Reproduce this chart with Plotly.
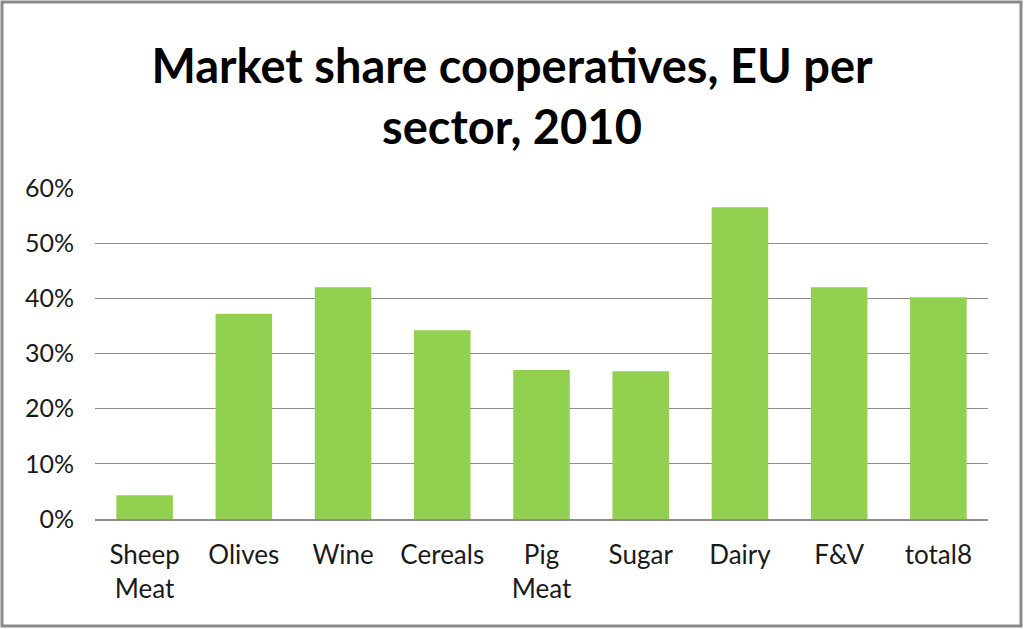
import plotly.graph_objects as go

categories = ["Sheep<br>Meat", "Olives", "Wine", "Cereals", "Pig<br>Meat", "Sugar", "Dairy", "F&V", "total8"]
shares = [0.043, 0.372, 0.420, 0.342, 0.270, 0.268, 0.565, 0.420, 0.402]
tick_vals = [0, 0.1, 0.2, 0.3, 0.4, 0.5, 0.6]
tick_text = ["0%", "10%", "20%", "30%", "40%", "50%", "60%"]

W, H = 1024, 629
ML, MR, MT, MB = 95, 36, 188, 110
pw, ph = W - ML - MR, H - MT - MB

fig = go.Figure(go.Bar(x=categories, y=shares, marker=dict(color="#92D050", line=dict(width=0)),
                       width=0.57))

fig.update_layout(
    width=W, height=H,
    margin=dict(l=ML, r=MR, t=MT, b=MB),
    paper_bgcolor="white", plot_bgcolor="white",
    font=dict(family="Lato, Open Sans, sans-serif", color="#1a1a1a"),
    title=dict(text="<b>Market share cooperatives, EU per<br>sector, 2010</b>",
               x=0.5, xanchor="center", y=0.868, yanchor="middle",
               font=dict(size=47, color="black", family="Lato, sans-serif")),
    showlegend=False,
)
fig.update_yaxes(range=[0, 0.6], tickvals=tick_vals, ticktext=tick_text,
                 showgrid=True, gridcolor="#8c8c8c", gridwidth=1.3,
                 zeroline=False, showline=False, ticks="",
                 tickfont=dict(size=25), ticklabelstandoff=20)
fig.update_xaxes(showline=True, linecolor="#8c8c8c", linewidth=1.5, ticks="",
                 tickfont=dict(size=26), ticklabelstandoff=12)

# outer chart border
fig.add_shape(type="rect", xref="paper", yref="paper",
              x0=(2 - ML) / pw, x1=(W - 3 - ML) / pw,
              y0=-(H - 3 - MT - ph) / ph, y1=(H - 2 - MB) / ph,
              line=dict(color="#8a8a8a", width=3), fillcolor="rgba(0,0,0,0)", layer="above")

fig.write_html("out.html")
